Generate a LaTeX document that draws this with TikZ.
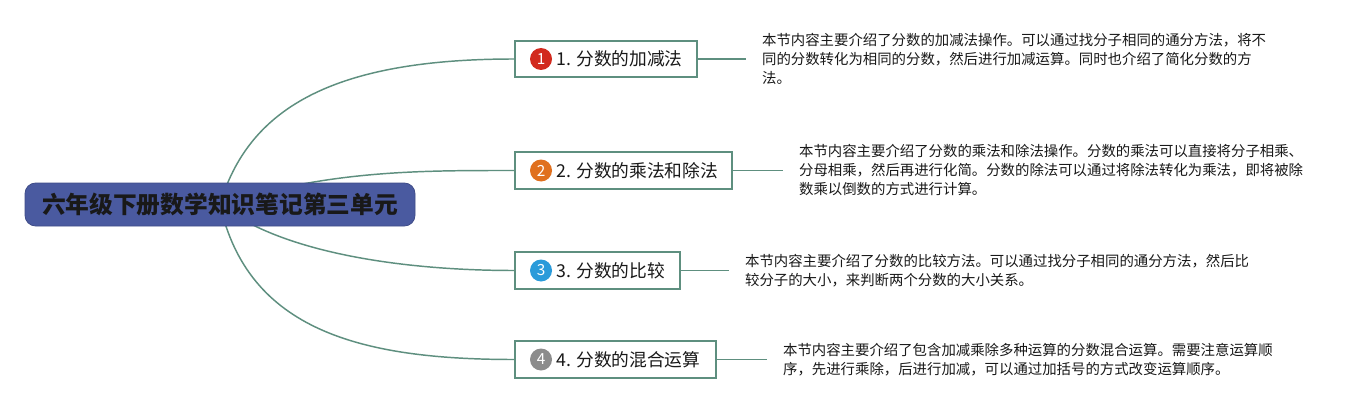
\documentclass[tikz,border=0pt]{standalone}
\usepackage{fontspec}
\setmainfont{Noto Sans CJK SC}
\definecolor{rootblue}{HTML}{4A5AA0}
\definecolor{branch}{HTML}{5E8F7F}
\definecolor{cred}{HTML}{D22A1E}
\definecolor{corange}{HTML}{E0701E}
\definecolor{cblue}{HTML}{2A9BDA}
\definecolor{cgrey}{HTML}{8C8C8C}
\tikzset{
  branchline/.style={draw=branch, line width=1.1pt},
  rootbox/.style={draw=rootblue!85!black, fill=rootblue, rounded corners=8pt, line width=0.6pt,
    minimum width=292.5pt, minimum height=32.25pt, inner sep=0pt,
    font=\fontsize{17.8}{20}\selectfont\bfseries, text=black!90},
  topicbox/.style={draw=branch, fill=white, line width=1.3pt, minimum height=27.5pt, inner sep=0pt},
  topictext/.style={anchor=west, inner sep=0pt, font=\fontsize{13.3}{15}\selectfont, text=black!90},
  numcircle/.style={circle, fill=#1, minimum size=16.5pt, inner sep=0pt, text=white, font=\fontsize{11.5}{12}\selectfont},
  note/.style={anchor=west, align=left, inner xsep=12pt, inner ysep=0pt, font=\fontsize{10.8}{14.25}\selectfont, text=black!90}
}
\begin{document}
\begin{tikzpicture}[x=0.75pt,y=-0.75pt]
\useasboundingbox (0,0) rectangle (1359,410);
\fill[white] (0,0) rectangle (1359,410);

% topic boxes
\node[topicbox, minimum width=136.5pt] (b1) at (606,59) {};
\node[topicbox, minimum width=162.75pt] (b2) at (623.5,170.5) {};
\node[topicbox, minimum width=123.75pt] (b3) at (597.5,270.5) {};
\node[topicbox, minimum width=150.75pt] (b4) at (615.5,359.5) {};

% curves from root
\draw[branchline] (220,204.5) coordinate (rc) .. controls (248,110) and (330,59) .. (b1.west);
\draw[branchline] (rc) .. controls (330,170) and (420,170.5) .. (b2.west);
\draw[branchline] (rc) .. controls (280,252) and (400,270.5) .. (b3.west);
\draw[branchline] (rc) .. controls (248,330) and (360,359.5) .. (b4.west);

% root
\node[rootbox] (root) at (rc) {六年级下册数学知识笔记第三单元};

% circles and texts
\node[numcircle=cred] (c1) at (541,59) {1};
\node[topictext] (t1) at (556,59) {1. 分数的加减法};
\node[numcircle=corange] (c2) at (541,170.5) {2};
\node[topictext] (t2) at (556,170.5) {2. 分数的乘法和除法};
\node[numcircle=cblue] (c3) at (541,270.5) {3};
\node[topictext] (t3) at (556,270.5) {3. 分数的比较};
\node[numcircle=cgrey] (c4) at (541,359.5) {4};
\node[topictext] (t4) at (556,359.5) {4. 分数的混合运算};

% notes
\node[note] (n1) at ([xshift=36pt]b1.east) {本节内容主要介绍了分数的加减法操作。可以通过找分子相同的通分方法，将不\\同的分数转化为相同的分数，然后进行加减运算。同时也介绍了简化分数的方\\法。};
\node[note] (n2) at ([xshift=37.5pt]b2.east) {本节内容主要介绍了分数的乘法和除法操作。分数的乘法可以直接将分子相乘、\\分母相乘，然后再进行化简。分数的除法可以通过将除法转化为乘法，即将被除\\数乘以倒数的方式进行计算。};
\node[note] (n3) at ([xshift=36pt]b3.east) {本节内容主要介绍了分数的比较方法。可以通过找分子相同的通分方法，然后比\\较分子的大小，来判断两个分数的大小关系。};
\node[note] (n4) at ([xshift=37.5pt]b4.east) {本节内容主要介绍了包含加减乘除多种运算的分数混合运算。需要注意运算顺\\序，先进行乘除，后进行加减，可以通过加括号的方式改变运算顺序。};

\draw[branchline] (b1.east) -- (n1.west);
\draw[branchline] (b2.east) -- (n2.west);
\draw[branchline] (b3.east) -- (n3.west);
\draw[branchline] (b4.east) -- (n4.west);
\end{tikzpicture}
\end{document}
